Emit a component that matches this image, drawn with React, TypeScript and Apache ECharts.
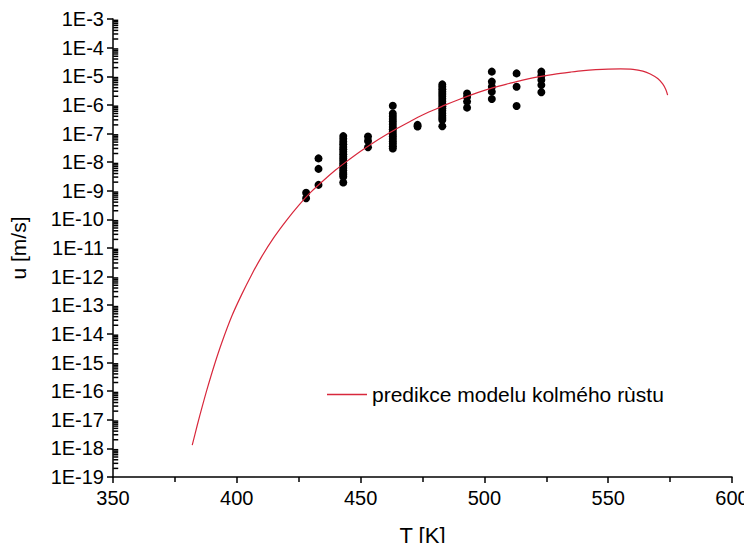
import React, { useEffect, useRef } from "react";
import * as echarts from "echarts";

// Model prediction curve: temperature [K] and growth rate [m/s]
const curveT = [382, 384, 386, 388, 391, 394, 398, 402, 406, 410, 415, 420, 425, 430, 435, 440, 444, 450, 455, 460, 464, 470, 475, 480, 484, 490, 495, 500, 504, 510, 515, 520, 528, 535, 540, 545, 550, 555, 560, 564, 567, 570, 572, 573.3, 574];
const curveU = [1.29e-18, 6.3e-18, 2.8e-17, 1.17e-16, 8.5e-16, 5.1e-15, 4.2e-14, 2.4e-13, 1.17e-12, 4.9e-12, 2.34e-11, 9.1e-11, 3.1e-10, 9.1e-10, 2.29e-9, 5.4e-9, 1.0e-8, 2.4e-8, 4.7e-8, 8.7e-8, 1.38e-7, 2.63e-7, 4.4e-7, 6.9e-7, 9.8e-7, 1.58e-6, 2.29e-6, 3.2e-6, 4.1e-6, 5.6e-6, 7.2e-6, 8.9e-6, 1.17e-5, 1.41e-5, 1.58e-5, 1.7e-5, 1.78e-5, 1.8e-5, 1.74e-5, 1.51e-5, 1.2e-5, 8.3e-6, 5.4e-6, 3.4e-6, 2.2e-6];

// Measured points, grouped by temperature
const measT = [428, 433, 443, 453, 463, 473, 483, 493, 503, 513, 523];
const measU: number[][] = [
  [8.5e-10, 5.5e-10],
  [1.35e-8, 5.8e-9, 1.6e-9],
  [8.1e-8, 6.5e-8, 5.2e-8, 4.2e-8, 3.4e-8, 2.8e-8, 2.3e-8, 1.9e-8, 1.55e-8, 1.3e-8, 1.1e-8, 9e-9, 7.5e-9, 6.2e-9, 5.1e-9, 4.2e-9, 3.6e-9, 3.1e-9, 1.95e-9],
  [7.8e-8, 5.5e-8, 3.3e-8],
  [9.3e-7, 5e-7, 4e-7, 3.2e-7, 2.6e-7, 2.1e-7, 1.7e-7, 1.4e-7, 1.15e-7, 9.5e-8, 7.8e-8, 6.4e-8, 5.3e-8, 4.4e-8, 3.6e-8, 3.0e-8],
  [1.75e-7, 2.0e-7],
  [5.2e-6, 4.3e-6, 3.5e-6, 2.9e-6, 2.4e-6, 2.0e-6, 1.65e-6, 1.35e-6, 1.1e-6, 9e-7, 7.5e-7, 6.2e-7, 5.1e-7, 4.2e-7, 3.5e-7, 2.95e-7, 1.8e-7],
  [2.5e-6, 1.9e-6, 1.3e-6, 8e-7],
  [1.45e-5, 6.5e-6, 4.3e-6, 2.9e-6, 1.6e-6],
  [1.26e-5, 4.3e-6, 9.1e-7],
  [1.45e-5, 1.05e-5, 7.4e-6, 4.9e-6, 2.75e-6],
];

const xTicks = { min: 350, max: 600, step: 50 };
const yRange = { min: 1e-19, max: 1e-3 };
const yDecades = { from: -19, to: -4 };
const minorMultipliers = [2, 3, 4, 5, 6, 7, 8, 9];
const lineName = "predikce modelu kolmého rùstu";
const xName = "T [K]";
const yName = "u [m/s]";

const FONT = "'Liberation Sans', Arial, sans-serif";

export default function App() {
  const ref = useRef<HTMLDivElement>(null);
  useEffect(() => {
    if (!ref.current) return;
    const chart = echarts.init(ref.current, undefined, { renderer: "svg" });
    const curveData = curveT.map((t, i) => [t, curveU[i]]);
    const scatterData: number[][] = [];
    measT.forEach((t, i) => measU[i].forEach((u) => scatterData.push([t, u])));
    const minorTickVals: number[][] = [];
    for (let e = yDecades.from; e <= yDecades.to; e++) {
      minorMultipliers.forEach((m) => minorTickVals.push([351.1, m * Math.pow(10, e)]));
    }
    const fmt = (v: number) => "1E" + Math.round(Math.log10(v));
    chart.setOption({
      animation: false,
      backgroundColor: "#fff",
      textStyle: { fontFamily: FONT },
      grid: { left: 111, right: 20, top: 19, bottom: 74, containLabel: false },
      legend: {
        data: [{ name: lineName, icon: "rect" }],
        left: 322,
        top: 379,
        itemWidth: 40,
        itemHeight: 1.5,
        itemGap: 6,
        textStyle: { fontSize: 21, color: "#000", fontFamily: FONT },
      },
      xAxis: {
        type: "value",
        min: xTicks.min,
        max: xTicks.max,
        interval: xTicks.step,
        name: xName,
        nameLocation: "middle",
        nameGap: 47,
        nameTextStyle: { fontSize: 22, color: "#000", fontFamily: FONT },
        axisLine: { lineStyle: { color: "#000", width: 1.5 } },
        axisTick: { length: 6, lineStyle: { color: "#000", width: 1.5 } },
        minorTick: { show: true, splitNumber: 2, length: 5, lineStyle: { color: "#000", width: 1.5 } },
        splitLine: { show: false },
        axisLabel: { fontSize: 20, color: "#000", margin: 11, fontFamily: FONT },
      },
      yAxis: {
        type: "log",
        logBase: 10,
        min: yRange.min,
        max: yRange.max,
        interval: 1,
        name: yName,
        nameLocation: "middle",
        nameGap: 84,
        nameRotate: 90,
        nameTextStyle: { fontSize: 21, color: "#000", fontFamily: FONT },
        axisLine: { lineStyle: { color: "#000", width: 1.5 } },
        axisTick: { length: 6, lineStyle: { color: "#000", width: 1.5 } },
        splitLine: { show: false },
        axisLabel: { fontSize: 20, color: "#000", margin: 9, formatter: fmt, fontFamily: FONT },
      },
      series: [
        {
          type: "scatter",
          name: "minor ticks",
          silent: true,
          data: minorTickVals,
          symbol: "rect",
          symbolSize: [5, 1.5],
          itemStyle: { color: "#000", opacity: 1 },
          z: 3,
        },
        {
          type: "scatter",
          name: "data",
          data: scatterData,
          symbol: "circle",
          symbolSize: 8,
          itemStyle: { color: "#000", opacity: 1 },
        },
        {
          type: "line",
          name: lineName,
          data: curveData,
          showSymbol: false,
          symbol: "none",
          smooth: 0.3,
          lineStyle: { color: "#d8283c", width: 1.2 },
          itemStyle: { color: "#d8283c" },
        },
      ],
    });
    return () => chart.dispose();
  }, []);
  return <div ref={ref} style={{ width: 752, height: 551, margin: -8 }} />;
}
